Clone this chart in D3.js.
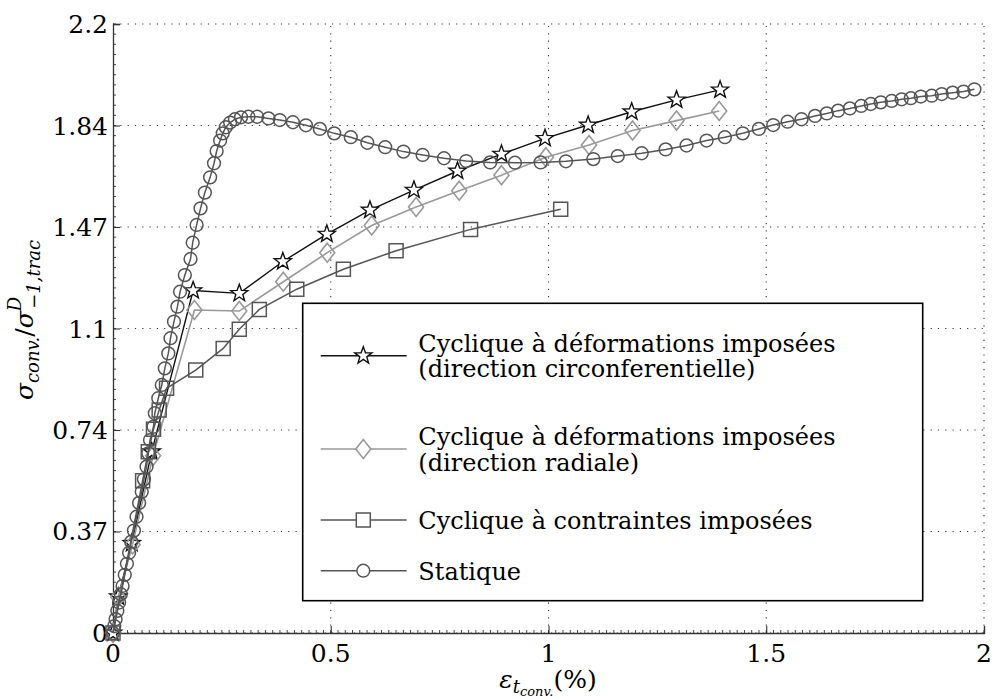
<!DOCTYPE html>
<html><head><meta charset="utf-8">
<script src="https://cdn.jsdelivr.net/npm/d3@7"></script>
</head>
<body style="margin:0"><svg id="c" width="993" height="699"></svg>
<script>
// ---- data ----
const yTickValues = [0, 0.3667, 0.7333, 1.1, 1.4667, 1.8333, 2.2];
const yTickLabels = ["0", "0.37", "0.74", "1.1", "1.47", "1.84", "2.2"];
const xTickValues = [0, 0.5, 1, 1.5, 2];
const xTickLabels = ["0", "0.5", "1", "1.5", "2"];

const circX = [0.000,0.012,0.043,0.089,0.184,0.290,0.390,0.491,0.590,0.691,0.791,0.892,0.992,1.091,1.191,1.294,1.394];
const circY = [0,0.131,0.324,0.655,1.237,1.227,1.342,1.441,1.528,1.600,1.669,1.730,1.787,1.835,1.883,1.926,1.962];

const radX = [0,0.012,0.045,0.092,0.187,0.290,0.391,0.492,0.594,0.696,0.795,0.892,0.994,1.093,1.193,1.294,1.392];
const radY = [0,0.13,0.32,0.64,1.167,1.163,1.269,1.374,1.472,1.539,1.598,1.654,1.719,1.763,1.815,1.851,1.886];

const contX = [0,0.068,0.081,0.093,0.106,0.123,0.190,0.253,0.290,0.336,0.422,0.529,0.650,0.821,1.028];
const contY = [0,0.550,0.655,0.736,0.806,0.884,0.950,1.028,1.097,1.169,1.242,1.314,1.381,1.458,1.531];

const statX = [0.000,0.003,0.006,0.010,0.014,0.018,0.022,0.027,0.032,0.037,0.042,0.048,0.054,0.060,0.066,0.071,0.077,0.081,0.085,0.093,0.096,0.104,0.112,0.119,0.127,0.132,0.140,0.148,0.154,0.165,
 0.178,0.183,0.192,0.201,0.211,0.223,0.232,0.238,0.246,0.252,0.259,0.269,0.280,0.294,0.311,0.331,0.357,0.383,0.413,0.443,0.475,0.508,0.546,0.584,0.625,0.667,0.711,0.760,0.811,0.866,0.923,0.982,1.040,
 1.103,1.159,1.214,1.269,1.317,1.363,1.405,1.446,1.483,1.516,1.549,1.581,1.612,1.639,1.665,1.692,1.718,1.740,1.763,1.788,1.811,1.832,1.855,1.880,1.903,1.928,1.953,1.978];
const statY = [0.000,0.025,0.05,0.08,0.11,0.14,0.17,0.21,0.25,0.29,0.33,0.37,0.42,0.47,0.51,0.555,0.601,0.649,0.697,0.745,0.794,0.848,0.896,0.956,1.010,1.065,1.125,1.179,1.233,1.293,
 1.351,1.410,1.474,1.534,1.591,1.646,1.697,1.741,1.779,1.805,1.827,1.844,1.856,1.863,1.865,1.865,1.859,1.853,1.845,1.834,1.821,1.805,1.791,1.771,1.755,1.739,1.727,1.715,1.705,1.700,1.699,1.700,1.704,
 1.712,1.723,1.733,1.747,1.761,1.779,1.791,1.805,1.821,1.835,1.847,1.856,1.868,1.877,1.887,1.895,1.904,1.911,1.917,1.922,1.928,1.932,1.938,1.941,1.947,1.952,1.956,1.964];

const seriesNames = ["Cyclique à déformations imposées|(direction circonferentielle)",
                     "Cyclique à déformations imposées|(direction radiale)",
                     "Cyclique à contraintes imposées",
                     "Statique"];

// ---- drawing ----
const FONT = "DejaVu Serif";
const svg = d3.select("#c");
const x = d3.scaleLinear().domain([0, 2]).range([113, 984]);
const y = d3.scaleLinear().domain([0, 2.2]).range([633, 24]);

// grid
const grid = svg.append("g");
yTickValues.forEach(v => grid.append("line").attr("x1", 113).attr("x2", 984).attr("y1", y(v)).attr("y2", y(v))
  .attr("stroke", "#333").attr("stroke-width", 1.1).attr("stroke-dasharray", "1.2,6.1"));
xTickValues.slice(1).forEach(v => grid.append("line").attr("y1", 633).attr("y2", 24).attr("x1", x(v)).attr("x2", x(v))
  .attr("stroke", "#333").attr("stroke-width", 1.1).attr("stroke-dasharray", "1.2,6.1"));

// axes (lines + ticks via d3.axis, labels as own text)
const xAxis = d3.axisBottom(x).tickValues(xTickValues).tickFormat("").tickSize(-7);
const gx = svg.append("g").attr("transform", "translate(0,633)").call(xAxis);
const yAxis = d3.axisLeft(y).tickValues(yTickValues).tickFormat("").tickSize(-7);
const gy = svg.append("g").attr("transform", "translate(113,0)").call(yAxis);
[gx, gy].forEach(g => {
  g.select(".domain").attr("stroke", "#333").attr("stroke-width", 1.3);
  g.selectAll(".tick line").attr("stroke", "#333").attr("stroke-width", 1.1);
  g.selectAll(".tick text").remove();
});
xTickValues.forEach((v, i) => svg.append("text").attr("x", x(v)).attr("y", 662)
  .attr("text-anchor", "middle").attr("font-family", FONT).attr("font-size", 25).text(xTickLabels[i]));
yTickValues.forEach((v, i) => svg.append("text").attr("x", 108).attr("y", y(v) + 9)
  .attr("text-anchor", "end").attr("font-family", FONT).attr("font-size", 25).text(yTickLabels[i]));

// minor ticks
const minorX = d3.range(0, 2.0001, 2 / 120);
svg.append("g").selectAll("line").data(minorX).join("line")
  .attr("x1", d => x(d)).attr("x2", d => x(d)).attr("y1", 633).attr("y2", 630)
  .attr("stroke", "#333").attr("stroke-width", 0.9);
const minorY = d3.range(0, 2.2001, 2.2 / 60);
svg.append("g").selectAll("line").data(minorY).join("line")
  .attr("y1", d => y(d)).attr("y2", d => y(d)).attr("x1", 113).attr("x2", 116)
  .attr("stroke", "#333").attr("stroke-width", 0.9);

// markers
function starPath(R, r) {
  const p = [];
  for (let k = 0; k < 10; k++) {
    const a = -Math.PI / 2 + k * Math.PI / 5, rr = k % 2 ? r : R;
    p.push([rr * Math.cos(a), rr * Math.sin(a)]);
  }
  return "M" + p.map(q => q[0].toFixed(2) + "," + q[1].toFixed(2)).join("L") + "Z";
}
const shapes = {
  star: starPath(9, 3.7),
  diamond: "M0,-9.5L7.5,0L0,9.5L-7.5,0Z",
  square: "M-7,-7L7,-7L7,7L-7,7Z",
  circle: d3.symbol().type(d3.symbolCircle).size(Math.PI * 6.4 * 6.4)()
};

const series = [
  {xs: circX, ys: circY, color: "#111", shape: "star", fill: "#fff", lw: 1.4},
  {xs: radX, ys: radY, color: "#999", shape: "diamond", fill: "none", lw: 1.6},
  {xs: contX, ys: contY, color: "#555", shape: "square", fill: "none", lw: 1.5},
  {xs: statX, ys: statY, color: "#555", shape: "circle", fill: "none", lw: 1.5}
];
const line = d3.line().x(d => x(d[0])).y(d => y(d[1]));
series.forEach(s => {
  const pts = s.xs.map((v, i) => [v, s.ys[i]]);
  const g = svg.append("g");
  g.append("path").attr("d", line(pts)).attr("fill", "none").attr("stroke", s.color).attr("stroke-width", s.lw);
  g.selectAll("path.m").data(pts).join("path").attr("class", "m")
    .attr("d", shapes[s.shape]).attr("transform", d => `translate(${x(d[0])},${y(d[1])})`)
    .attr("fill", s.fill).attr("stroke", s.color).attr("stroke-width", s.lw);
});

// legend
const lg = svg.append("g");
lg.append("rect").attr("x", 302.7).attr("y", 303.3).attr("width", 620).attr("height", 297.4)
  .attr("fill", "#fff").attr("stroke", "#000").attr("stroke-width", 1.6);
const legY = [355.7, 449, 520, 570.7];
const legText = [[351.7, 377], [445, 471], [529], [580]];
series.forEach((s, i) => {
  lg.append("line").attr("x1", 320.7).attr("x2", 406.7).attr("y1", legY[i]).attr("y2", legY[i])
    .attr("stroke", s.color).attr("stroke-width", s.lw);
  lg.append("path").attr("d", shapes[s.shape]).attr("transform", `translate(363.3,${legY[i]})`)
    .attr("fill", "#fff").attr("stroke", s.color).attr("stroke-width", s.lw);
  const lines = seriesNames[i].split("|");
  lines.forEach((t, j) => {
    lg.append("text").attr("x", 418.3).attr("y", legText[i][j]).attr("font-size", 24)
      .attr("font-family", FONT).text(t);
  });
});

// axis labels
const xl = svg.append("text").attr("x", 548).attr("y", 688).attr("text-anchor", "middle").attr("font-size", 25).attr("font-family", FONT);
xl.append("tspan").attr("font-style", "italic").text("ε");
xl.append("tspan").attr("font-style", "italic").attr("font-size", 18).attr("dy", 5).text("t");
xl.append("tspan").attr("font-style", "italic").attr("font-size", 13).attr("dy", 3).text("conv.");
xl.append("tspan").attr("dy", -8).text("(%)");

const yl = svg.append("text").attr("transform", "translate(33,320) rotate(-90)").attr("text-anchor", "middle").attr("font-size", 25).attr("font-family", FONT);
yl.append("tspan").attr("font-style", "italic").text("σ");
yl.append("tspan").attr("font-style", "italic").attr("font-size", 18).attr("dy", 6).text("conv.");
yl.append("tspan").attr("dy", -6).text("/");
yl.append("tspan").attr("font-style", "italic").text("σ");
yl.append("tspan").attr("font-style", "italic").attr("font-size", 18).attr("dy", -12).text("D");
yl.append("tspan").attr("font-style", "italic").attr("font-size", 18).attr("dx", -12).attr("dy", 19).text("−1,trac");
</script></body></html>
